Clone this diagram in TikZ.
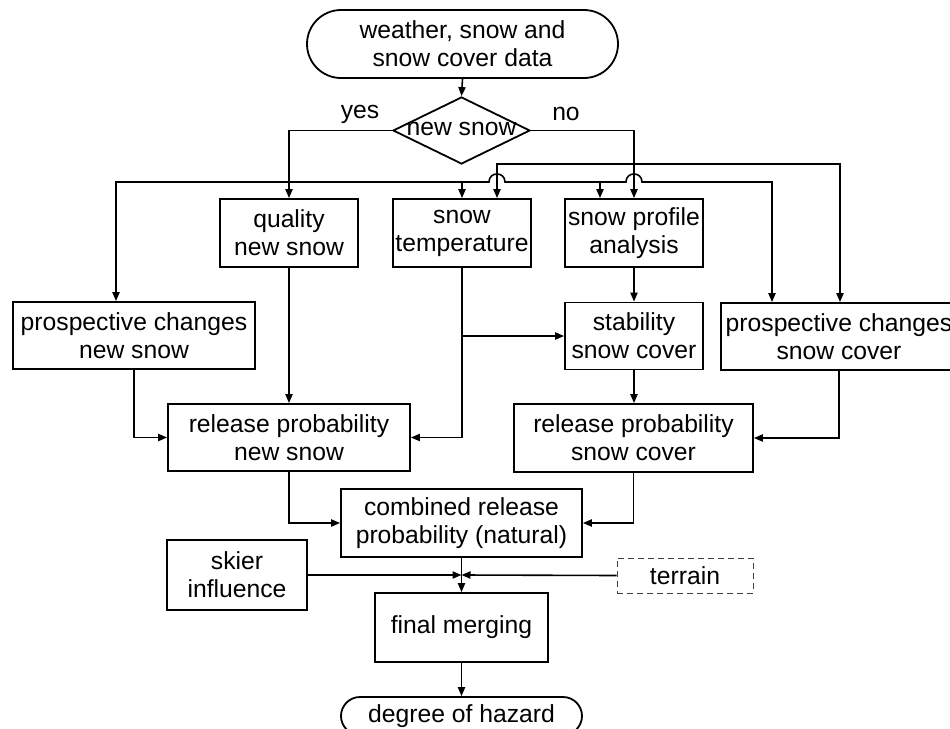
\documentclass[tikz,border=0pt]{standalone}
\usepackage{fontspec}
\setmainfont{Liberation Sans}
\usetikzlibrary{arrows.meta,shapes.geometric}
\begin{document}
\begin{tikzpicture}[x=0.5pt,y=-0.5pt,
  >={Triangle[length=4.5pt,width=3.6pt]},
  every node/.style={font=\fontsize{12.35pt}{14pt}\selectfont, inner sep=0pt, align=center},
  box/.style={draw, line width=0.9pt, rectangle},
  term/.style={draw, line width=0.9pt, rectangle},
  ln/.style={line width=0.8pt},
  arr/.style={->, line width=0.8pt}
]
\useasboundingbox (0,0) rectangle (950,729);

% nodes
\node[term, minimum width=155.5pt, minimum height=34pt, rounded corners=17pt] (start) at (462.5,44) {weather, snow and\\snow cover data};
\node[draw, diamond, line width=0.9pt, minimum width=68.5pt, minimum height=33.5pt] (dec) at (461.5,130.5) {};
\node (dectext) at (461.5,129) {new snow};
\node (yes) at (360,114) {yes};
\node (no) at (566,114) {no};

\node[box, minimum width=69pt, minimum height=34pt] (quality) at (289,233) {quality\\new snow};
\node[box, minimum width=69pt, minimum height=34pt] (snowtemp) at (462,233) {snow\\temperature};
\node[box, minimum width=69pt, minimum height=34pt] (profile) at (634,233) {snow profile\\analysis};

\node[box, minimum width=121pt, minimum height=33.5pt] (pcnew) at (134,335.5) {prospective changes\\new snow};
\node[box, minimum width=69pt, minimum height=33.5pt] (stability) at (634,336) {stability\\snow cover};
\node[box, minimum width=118pt, minimum height=33.5pt] (pcsc) at (839,336.5) {prospective changes\\snow cover};

\node[box, minimum width=121pt, minimum height=33.5pt] (relnew) at (289,437.5) {release probability\\new snow};
\node[box, minimum width=119.5pt, minimum height=34pt] (relsc) at (633.5,438) {release probability\\snow cover};

\node[box, minimum width=120.5pt, minimum height=34pt] (combined) at (461.5,523) {combined release\\probability (natural)};
\node[box, minimum width=70pt, minimum height=35pt] (skier) at (237,575) {skier\\influence};
\node[draw=black!75, densely dashed, line width=0.5pt, minimum width=68pt, minimum height=17.5pt] (terrain) at (685,575.5) {terrain};
\node[box, minimum width=86.5pt, minimum height=34.5pt] (final) at (461.5,627.5) {final merging};
\node[term, minimum width=120.5pt, minimum height=19pt, rounded corners=9.5pt] (hazard) at (461.5,716) {degree of hazard};

% coordinates
\coordinate (L) at (116,182);
\coordinate (R) at (772,182);
\coordinate (P) at (600,182);
\coordinate (U1) at (497,164);
\coordinate (U2) at (840,164);
\coordinate (M) at (461.5,575);

% connectors
\draw[arr] (start.south) -- (dec.north);
\draw[arr] (dec.west) -| (quality.north);
\draw[arr] (dec.east) -| (profile.north);

\draw[ln,<->] (L |- pcnew.north) -- (L) -- (489,182)
  .. controls (489,171.3) and (505,171.3) .. (505,182) -- (626,182)
  .. controls (626,171.3) and (642,171.3) .. (642,182) -- (R) -- (R |- pcsc.north);
\draw[arr] (snowtemp.north |- L) -- (snowtemp.north);
\draw[arr] (P) -- (P |- profile.north);

\draw[ln,<->] (U1 |- snowtemp.north) -- (U1) -- (U2) -- (U2 |- pcsc.north);

\draw[arr] (snowtemp.south) -- (snowtemp.south |- relnew.east) -- (relnew.east);
\draw[arr] (snowtemp.south |- stability.west) -- (stability.west);
\draw[arr] (quality.south) -- (relnew.north);
\draw[arr] (pcnew.south) |- (relnew.west);
\draw[arr] (profile.south) -- (stability.north);
\draw[arr] (stability.south) -- (stability.south |- relsc.north);
\draw[arr] (pcsc.south) |- (relsc.east);

\draw[arr] (relnew.south) |- (combined.west);
\draw[arr] (relsc.south) |- (combined.east);
\draw[arr] (combined.south) -- (final.north);
\draw[arr] (skier.east) -- (M);
\draw[arr] (terrain.west) -- (M);
\draw[arr] (final.south) -- (hazard.north);
\end{tikzpicture}
\end{document}
